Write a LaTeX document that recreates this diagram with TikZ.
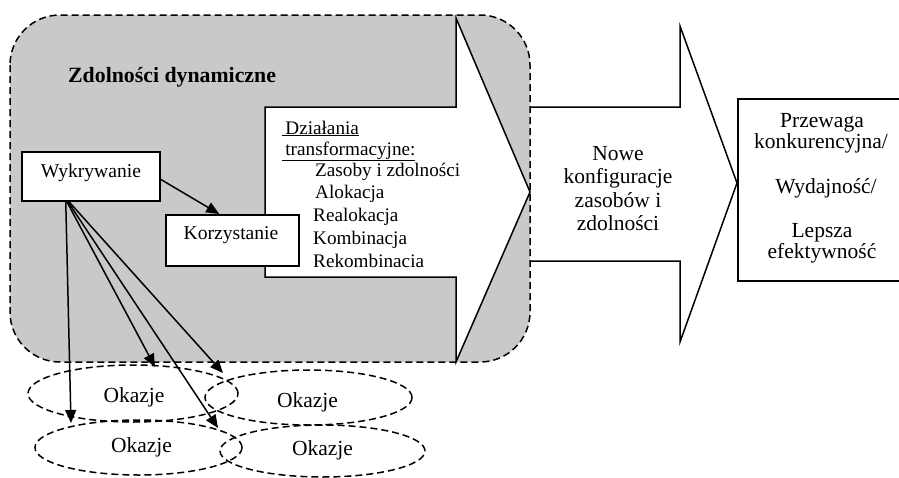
\documentclass[tikz,border=0pt]{standalone}
\usepackage{fontspec}
\setmainfont{Liberation Serif}
\usetikzlibrary{arrows.meta,shapes.geometric}
\begin{document}
\begin{tikzpicture}[x=1pt,y=-1pt,
  font=\fontsize{19.6}{22}\selectfont,
  big/.style={font=\fontsize{21.5}{24}\selectfont},
  lw/.style={line width=1.5pt},
  dsh/.style={lw, dash pattern=on 7pt off 4pt},
  box/.style={draw, lw, fill=white, inner sep=0pt},
  conn/.style={lw, -{Triangle[length=13pt,width=11pt]}},
  opp/.style={ellipse, draw, dsh, inner sep=0pt},
  txt/.style={anchor=base, inner sep=0pt},
  ltxt/.style={anchor=base west, inner sep=0pt, font=\fontsize{19.2}{22}\selectfont}]
\useasboundingbox (0,0) rectangle (899,477);
\clip (0,0) rectangle (899,477);

% grey area: dynamic capabilities
\draw[dsh, fill=black!21, rounded corners=50pt] (10,15) rectangle (530,362);

% big arrow 1
\draw[lw, fill=white] (265,107) -- (456,107) -- (456,18) -- (530,192) -- (456,362) -- (456,277) -- (265,277) -- cycle;
% big arrow 2
\draw[lw] (530,107) -- (680,107) -- (680,26) -- (737,183) -- (680,342) -- (680,261) -- (530,261);

% result box
\node[box, minimum width=175pt, minimum height=182pt, anchor=north west] (res) at (737,98) {};
\node[txt, big] (r1) at (822,127) {Przewaga};
\node[txt, big] (r2) at (821,148) {konkurencyjna/};
\node[txt, big] (r3) at (826,193) {Wydajność/};
\node[txt, big] (r4) at (822,237) {Lepsza};
\node[txt, big] (r5) at (822,258) {efektywność};

% new configurations
\node[txt, big] (n1) at (618,160) {Nowe};
\node[txt, big] (n2) at (618,183) {konfiguracje};
\node[txt, big] (n3) at (618,207) {zasobów i};
\node[txt, big] (n4) at (618,230) {zdolności};

% title
\node[ltxt, font=\fontsize{21.8}{24}\selectfont\bfseries] (title) at (68,82) {Zdolności dynamiczne};

% transformation actions
\node[ltxt] (d1) at (282,134) {\underline{\,Działania}};
\node[ltxt] (d2) at (282,155) {\underline{\,transformacyjne:}};
\node[ltxt] (d3) at (315,176) {Zasoby i zdolności};
\node[ltxt] (d4) at (315,198) {Alokacja};
\node[ltxt] (d5) at (313,221) {Realokacja};
\node[ltxt] (d6) at (313,244) {Kombinacja};
\node[ltxt] (d7) at (313,267) {Rekombinacia};

% sensing and seizing
\node[box, minimum width=138pt, minimum height=49pt, anchor=north west] (wyk) at (21,151) {};
\node[txt] (wykt) at (91,177) {Wykrywanie};
\node[box, minimum width=133pt, minimum height=51pt, anchor=north west] (kor) at (165,214) {};
\node[txt] (kort) at (231,239) {Korzystanie};

% opportunities
\node[opp, minimum width=210pt, minimum height=57pt] (e1) at (133,393.5) {};
\node[opp, minimum width=207pt, minimum height=55pt] (e2) at (308.5,397.5) {};
\node[opp, minimum width=207pt, minimum height=55pt] (e3) at (138.5,447.5) {};
\node[opp, minimum width=205pt, minimum height=52pt] (e4) at (322.5,451) {};
\node[txt, big] (o1) at (134,402) {Okazje};
\node[txt, big] (o2) at (307.5,407) {Okazje};
\node[txt, big] (o3) at (141.5,452) {Okazje};
\node[txt, big] (o4) at (322.5,455) {Okazje};

% arrow end points on the opportunities
\coordinate (t1) at (71,423);
\coordinate (t2) at (155,367);
\coordinate (t3) at (218,428);
\coordinate (t4) at (223,373);

% connectors
\draw[conn] ([yshift=-3pt]wyk.east) -- ([xshift=-13pt]kor.north);
\draw[conn] ([xshift=-25pt]wyk.south) -- (t1);
\draw[conn] ([xshift=-24pt]wyk.south) -- (t2);
\draw[conn] ([xshift=-23pt]wyk.south) -- (t3);
\draw[conn] ([xshift=-22pt]wyk.south) -- (t4);
\end{tikzpicture}
\end{document}
